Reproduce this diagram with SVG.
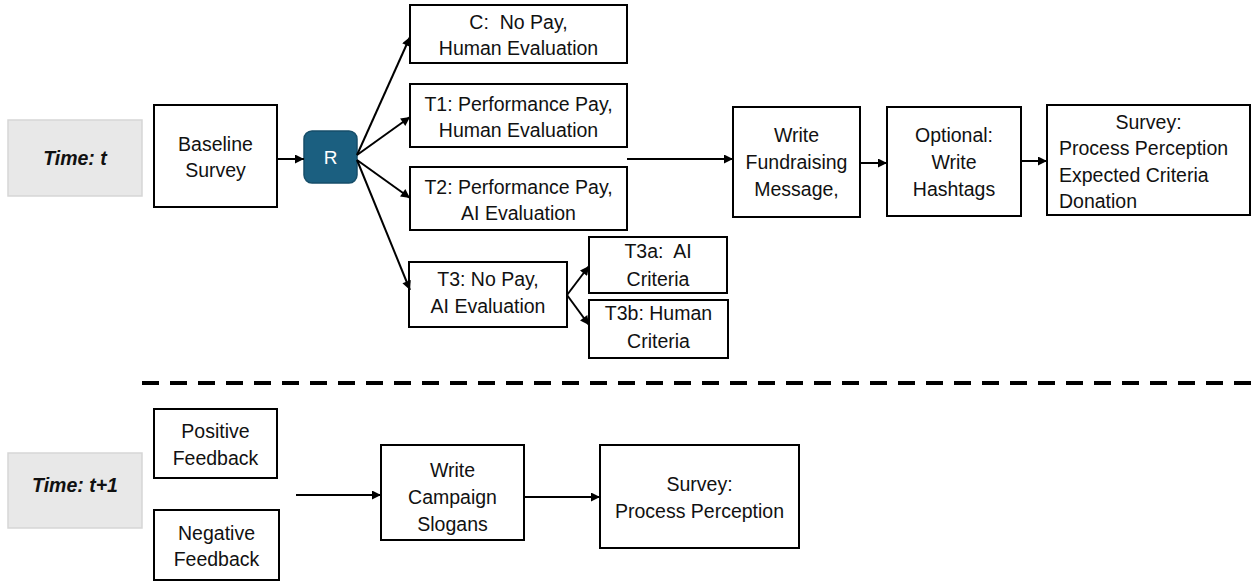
<svg xmlns="http://www.w3.org/2000/svg" width="1253" height="581" viewBox="0 0 1253 581">
<defs>
<marker id="ah" viewBox="0 0 10 10" refX="10" refY="5" markerWidth="10" markerHeight="9" markerUnits="userSpaceOnUse" orient="auto">
<path d="M0,0 L10,5 L0,10 z" fill="#000"/>
</marker>
</defs>
<style>
.box{fill:#fff;stroke:#000;stroke-width:2}
.time{fill:#e8e8e8;stroke:#d6d6d6;stroke-width:1.5}
.t{font-family:"Liberation Sans",Arial,sans-serif;font-size:19.5px;fill:#111;text-anchor:middle}
.tl{font-family:"Liberation Sans",Arial,sans-serif;font-size:19.5px;fill:#111}
.tb{font-family:"Liberation Sans",Arial,sans-serif;font-size:19.5px;font-weight:bold;font-style:italic;fill:#111;text-anchor:middle}
.c{stroke:#000;stroke-width:2;fill:none;marker-end:url(#ah)}
</style>
<rect width="1253" height="581" fill="#fff"/>
<g id="time-t"><rect class="time" x="8" y="120" width="134" height="76"/><text class="tb" x="75" y="165">Time: t</text></g>
<g id="time-t1"><rect class="time" x="8" y="453" width="134" height="75"/><text class="tb" x="75" y="492">Time: t+1</text></g>
<g id="baseline"><rect class="box" x="154" y="105" width="123" height="102"/><text class="t" x="215.5" y="151">Baseline</text><text class="t" x="215.5" y="177">Survey</text></g>
<g id="r"><rect x="304" y="131" width="53" height="52" rx="8" fill="#1b5f80" stroke="#164e69" stroke-width="1.5"/><text x="330.5" y="164" font-family="Liberation Sans,Arial,sans-serif" font-size="19" fill="#fff" text-anchor="middle">R</text></g>
<g id="c"><rect class="box" x="410" y="5" width="217" height="58"/><text class="t" x="518.5" y="29" xml:space="preserve">C:  No Pay,</text><text class="t" x="518.5" y="55">Human Evaluation</text></g>
<g id="t1"><rect class="box" x="410" y="84" width="217" height="63"/><text class="t" x="518.5" y="111">T1: Performance Pay,</text><text class="t" x="518.5" y="137">Human Evaluation</text></g>
<g id="t2"><rect class="box" x="410" y="167" width="217" height="63"/><text class="t" x="518.5" y="194">T2: Performance Pay,</text><text class="t" x="518.5" y="220">AI Evaluation</text></g>
<g id="t3"><rect class="box" x="409" y="262" width="158" height="65"/><text class="t" x="488" y="286">T3: No Pay,</text><text class="t" x="488" y="313">AI Evaluation</text></g>
<g id="t3a"><rect class="box" x="589" y="237" width="138" height="56"/><text class="t" x="658" y="258" xml:space="preserve">T3a:  AI</text><text class="t" x="658" y="286">Criteria</text></g>
<g id="t3b"><rect class="box" x="589" y="300" width="139" height="58"/><text class="t" x="658.5" y="320">T3b: Human</text><text class="t" x="658.5" y="348">Criteria</text></g>
<g id="write"><rect class="box" x="733" y="107" width="127" height="110"/><text class="t" x="796.5" y="142">Write</text><text class="t" x="796.5" y="169">Fundraising</text><text class="t" x="796.5" y="196">Message,</text></g>
<g id="optional"><rect class="box" x="887" y="107" width="134" height="109"/><text class="t" x="954" y="142">Optional:</text><text class="t" x="954" y="169">Write</text><text class="t" x="954" y="196">Hashtags</text></g>
<g id="survey1"><rect class="box" x="1047" y="105" width="203" height="110"/><text class="t" x="1148.5" y="129">Survey:</text><text class="tl" x="1059" y="155">Process Perception</text><text class="tl" x="1059" y="182">Expected Criteria</text><text class="tl" x="1059" y="208">Donation</text></g>
<g id="positive"><rect class="box" x="154" y="409" width="123" height="69"/><text class="t" x="215.5" y="438">Positive</text><text class="t" x="215.5" y="465">Feedback</text></g>
<g id="negative"><rect class="box" x="154" y="510" width="125" height="70"/><text class="t" x="216.5" y="540">Negative</text><text class="t" x="216.5" y="566">Feedback</text></g>
<g id="campaign"><rect class="box" x="381" y="445" width="143" height="95"/><text class="t" x="452.5" y="477">Write</text><text class="t" x="452.5" y="504">Campaign</text><text class="t" x="452.5" y="531">Slogans</text></g>
<g id="survey2"><rect class="box" x="600" y="445" width="199" height="103"/><text class="t" x="699.5" y="491">Survey:</text><text class="t" x="699.5" y="518">Process Perception</text></g>
<g id="connectors">
<line class="c" x1="277" y1="159" x2="304" y2="159"/>
<line class="c" x1="357" y1="155" x2="410" y2="37"/>
<line class="c" x1="357" y1="155" x2="410" y2="117"/>
<line class="c" x1="357" y1="160" x2="410" y2="198"/>
<line class="c" x1="357" y1="160" x2="410" y2="290"/>
<line class="c" x1="627" y1="159" x2="733" y2="159"/>
<line class="c" x1="860" y1="163" x2="887" y2="163"/>
<line class="c" x1="1021" y1="161" x2="1047" y2="161"/>
<line class="c" x1="567" y1="295" x2="589" y2="266"/>
<line class="c" x1="567" y1="295" x2="589" y2="325"/>
<line class="c" x1="296" y1="495" x2="381" y2="495"/>
<line class="c" x1="524" y1="497" x2="600" y2="497"/>
<line x1="142" y1="383" x2="1253" y2="383" stroke="#000" stroke-width="4" stroke-dasharray="17 11"/>
</g>
</svg>
